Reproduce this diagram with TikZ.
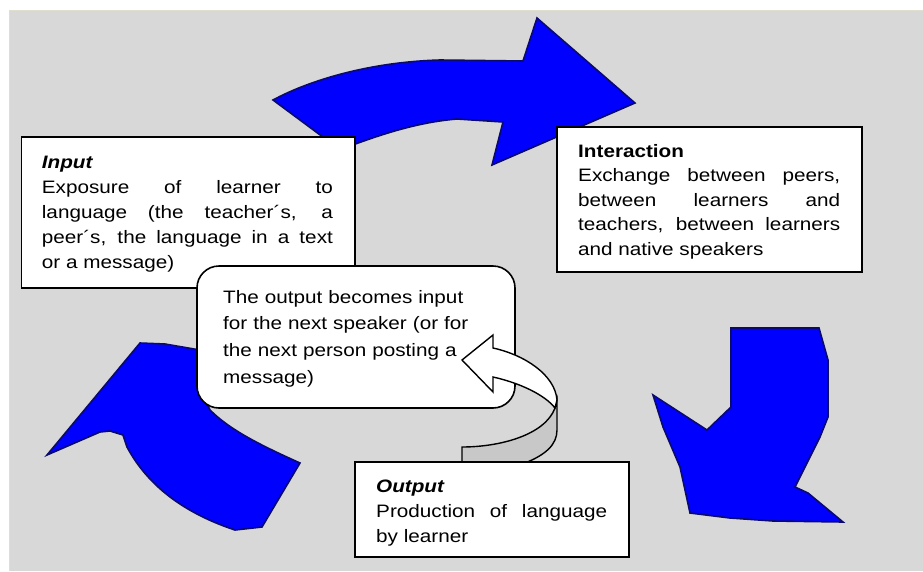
\documentclass[tikz,border=0pt]{standalone}
\usepackage{fontspec}
\setmainfont{Liberation Sans}[FakeStretch=1.15]
\definecolor{bggray}{RGB}{216,216,216}
\definecolor{edgebeige}{RGB}{226,222,205}
\definecolor{arrowblue}{RGB}{0,0,255}
\definecolor{arrownavy}{RGB}{10,10,110}
\definecolor{ribbongray}{RGB}{200,200,200}
\begin{document}
\begin{tikzpicture}[x=1pt,y=-1pt,
  bluearrow/.style={fill=arrowblue, draw=arrownavy, line width=1.6pt, line join=miter},
  textbox/.style={fill=white, draw=black, line width=1.6pt},
  boxtext/.style={anchor=base west, inner sep=0pt, align=justify},
  headfont/.style={font=\fontsize{18}{25}\selectfont}
]
\useasboundingbox (0,0) rectangle (923,571);
\fill[white] (0,0) rectangle (923,571);
\fill[bggray] (9,10) rectangle (923,571);
\draw[edgebeige, line width=1pt] (9.5,571) -- (9.5,10.5) -- (923,10.5);

% blue arrows
\path[bluearrow] (273,100) .. controls (310,80) and (370,62) .. (440,60) -- (523,61) -- (537,18) -- (635,103) -- (492,165) -- (503,122) -- (457,119) .. controls (420,122) and (385,133) .. (350,146) -- (335,146) -- cycle;
\path[bluearrow] (47,455) -- (140,343) -- (165,344) -- (200,350) -- (205,400) -- (210,410) .. controls (230,430) and (260,445) .. (300,463) -- (262,527) -- (235,530) .. controls (190,515) and (150,490) .. (127,447) -- (123,435) -- (110,431) -- (100,432) -- cycle;
\path[bluearrow] (731,328) -- (819,328) -- (828,360) -- (828,417) -- (820,437) -- (795,487) -- (808,493) -- (843,522) -- (773,521) -- (730,518) -- (690,513) -- (680,467) -- (663,427) -- (653,395) -- (707,430) -- (731,407) -- cycle;

% text boxes
\draw[textbox] (21.5,137) rectangle (355,288);
\node[boxtext, text width=291pt, font=\fontsize{18}{25}\selectfont] (input) at (41.7,168)
  {{\bfseries\itshape Input}\\
   Exposure of learner to\linebreak language (the teacher´s, a\linebreak peer´s, the language in a text\linebreak or a message)};

\draw[textbox] (557,127) rectangle (862,272);
\node[boxtext, text width=262pt, font=\fontsize{18}{24.5}\selectfont] (interaction) at (578,157)
  {{\bfseries Interaction}\\
   Exchange between peers,\linebreak between learners and\linebreak teachers, between learners\linebreak and native speakers};

\draw[textbox, rounded corners=22pt] (197,266) rectangle (515,408);
\node[boxtext, align=left, text width=285pt, font=\fontsize{18}{26.7}\selectfont] (callout) at (223,303)
  {The output becomes input\\ for the next speaker (or for\\ the next person posting a\\ message)};

% curved ribbon arrow
\coordinate (tip) at (462,360);
\path[fill=ribbongray, draw=black, line width=1.4pt] (555,408) .. controls (545,435) and (500,447) .. (462,447) -- (462,463) -- (525,463) .. controls (545,455) and (557,445) .. (557,430) -- (557,400) -- cycle;
\path[fill=white, draw=black, line width=1.4pt, line join=miter] (tip) -- (493,335) -- (493,348) .. controls (525,355) and (555,375) .. (557,400) -- (555,408) .. controls (545,395) and (520,383) .. (493,377) -- (493,392) -- cycle;

\draw[textbox] (355,462) rectangle (629,557);
\node[boxtext, text width=231pt, font=\fontsize{18}{25}\selectfont] (output) at (376,492)
  {{\bfseries\itshape Output}\\
   Production of language\linebreak by learner};
\end{tikzpicture}
\end{document}
